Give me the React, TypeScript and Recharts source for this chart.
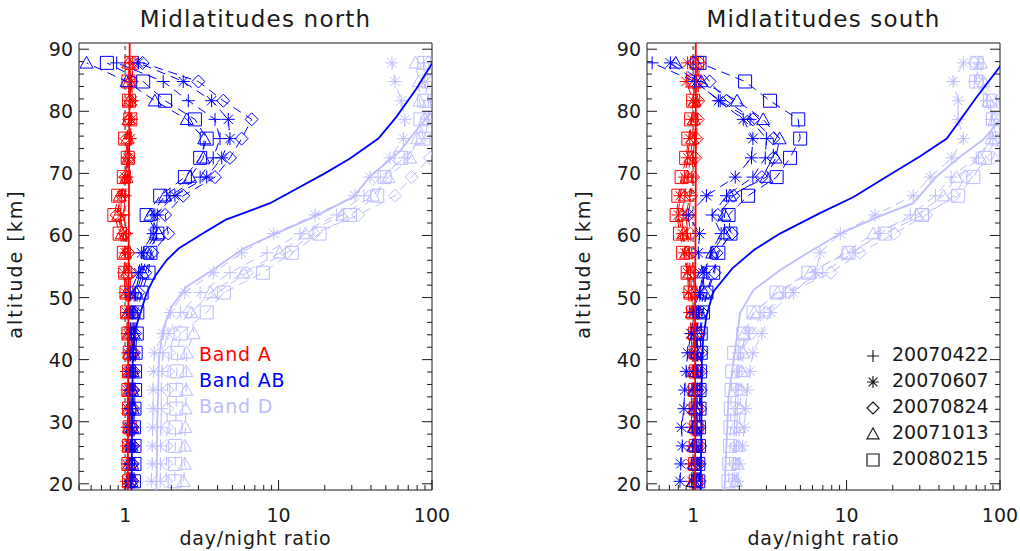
import React from 'react';
import { ComposedChart, Scatter, XAxis, YAxis, ReferenceLine } from 'recharts';

// altitude levels of the retrievals [km]
const ALT = [20.4, 23.2, 26.1, 29.1, 32.1, 35.1, 38.1, 41.1, 44.2, 47.6, 50.8, 54.0, 57.2, 60.3, 63.3, 66.4, 69.4, 72.5, 75.6, 78.7, 81.7, 84.8, 87.8];
const DATES = ['20070422', '20070607', '20070824', '20071013', '20080215'];

// ---- Midlatitudes north ----
const northA_0422 = [1.08, 1.07, 1.09, 1.08, 1.07, 1.08, 1.09, 1.08, 1.07, 1.08, 1.06, 1.05, 1.04, 1.02, 0.98, 1.0, 1.03, 1.06, 1.07, 1.08, 1.09, 1.08, 1.07];
const northA_0607 = [1.02, 1.03, 1.02, 1.03, 1.04, 1.03, 1.02, 1.04, 1.03, 1.02, 1.0, 0.98, 1.0, 0.97, 0.93, 0.95, 1.0, 1.04, 1.08, 1.1, 1.12, 1.1, 1.12];
const northA_0824 = [1.1, 1.11, 1.12, 1.11, 1.1, 1.12, 1.11, 1.12, 1.11, 1.1, 1.08, 1.08, 1.05, 1.0, 0.88, 0.95, 1.0, 1.05, 1.02, 1.06, 1.08, 1.1, 1.14];
const northA_1013 = [1.05, 1.06, 1.05, 1.06, 1.05, 1.06, 1.07, 1.06, 1.05, 1.04, 1.02, 1.03, 1.0, 0.95, 0.9, 0.92, 1.02, 1.05, 1.03, 1.05, 1.07, 1.06, 1.05];
const northA_0215 = [1.06, 1.05, 1.06, 1.07, 1.06, 1.05, 1.06, 1.07, 1.05, 1.03, 1.02, 1.0, 0.98, 0.92, 0.85, 0.9, 0.98, 1.04, 1.0, 1.08, 1.06, 1.05, 1.1];

const northAB_0422 = [1.1, 1.1, 1.11, 1.1, 1.11, 1.11, 1.12, 1.12, 1.13, 1.12, 1.16, 1.25, 1.32, 1.6, 1.62, 1.96, 3.08, 3.75, 4.15, 3.85, 2.58, 1.77, 0.88];
const northAB_0607 = [1.08, 1.07, 1.08, 1.07, 1.08, 1.07, 1.08, 1.09, 1.1, 1.06, 1.08, 1.22, 1.28, 1.52, 1.56, 2.11, 3.4, 4.26, 4.82, 4.7, 3.66, 2.39, 1.22];
const northAB_0824 = [1.12, 1.12, 1.13, 1.12, 1.13, 1.13, 1.14, 1.14, 1.16, 1.16, 1.22, 1.35, 1.5, 1.91, 1.82, 2.39, 3.85, 4.82, 5.74, 6.68, 4.36, 3.0, 1.3];
const northAB_1013 = [1.1, 1.11, 1.1, 1.11, 1.12, 1.11, 1.12, 1.13, 1.14, 1.14, 1.18, 1.3, 1.4, 1.65, 1.46, 1.82, 2.65, 3.23, 3.27, 2.52, 1.56, 1.02, 0.56];
const northAB_0215 = [1.14, 1.15, 1.15, 1.14, 1.15, 1.16, 1.16, 1.17, 1.19, 1.2, 1.28, 1.42, 1.46, 1.62, 1.38, 1.69, 2.45, 3.08, 3.4, 2.85, 1.82, 1.31, 0.76];

const northD_0422 = [1.69, 1.7, 1.7, 1.71, 1.72, 1.72, 1.74, 1.76, 1.9, 2.3, 3.08, 4.82, 8.4, 13.8, 23.9, 36, 46, 66, 90, 95, 95, 90, 88];
const northD_0607 = [1.48, 1.5, 1.5, 1.51, 1.52, 1.52, 1.53, 1.55, 1.77, 1.97, 2.45, 3.75, 5.74, 9.3, 17.3, 31.5, 39.4, 53.2, 65, 66.6, 63, 57.4, 54.8];
const northD_0824 = [1.85, 1.86, 1.86, 1.88, 1.88, 1.89, 1.9, 1.93, 2.1, 2.6, 4.0, 6.2, 11.3, 17, 33, 57.4, 73.6, 97, 110, 110, 105, 100, 95];
const northD_1013 = [2.4, 2.45, 2.45, 2.47, 2.48, 2.5, 2.5, 2.52, 2.8, 2.7, 3.6, 5.9, 10.2, 15, 26, 41.4, 51.9, 72, 80, 90, 83, 82, 78];
const northD_0215 = [2.1, 2.12, 2.12, 2.13, 2.15, 2.15, 2.17, 2.2, 2.3, 3.4, 4.4, 7.9, 12.2, 18.5, 29.2, 44, 49, 63, 88, 84, 89, 95, 89];

// model profiles (solid lines)
const northModelA_alt = [19, 50, 70, 91];
const northModelA = [1.04, 1.05, 1.06, 1.07];
const northModelAB_alt = [19, 30, 40, 44.8, 50.7, 53.4, 56, 57.9, 60.3, 62.5, 65.2, 70, 72.4, 75.6, 79.1, 83.7, 87.7, 91];
const northModelAB = [1.1, 1.11, 1.12, 1.16, 1.38, 1.56, 1.86, 2.23, 3.2, 4.5, 8.8, 20, 29.2, 44.7, 58.6, 79.5, 100, 130];
const northModelD_alt = [19, 30, 40, 44.8, 48.5, 51.7, 54.4, 57.9, 60.1, 63, 66.2, 69.5, 73.5, 77, 80, 85];
const northModelD = [1.6, 1.62, 1.66, 1.76, 2.0, 2.5, 3.7, 5.9, 9.2, 17, 30.7, 39.4, 61.5, 79.5, 100, 130];

// ---- Midlatitudes south ----
const southA_0422 = [1.03, 1.02, 1.04, 1.03, 1.02, 1.03, 1.04, 1.03, 1.02, 1.0, 0.98, 0.96, 0.94, 0.92, 0.9, 0.95, 0.98, 1.0, 1.02, 1.04, 1.06, 1.05, 1.08];
const southA_0607 = [0.98, 0.97, 0.99, 0.98, 0.97, 0.98, 0.99, 0.98, 0.97, 0.95, 0.93, 0.92, 0.88, 0.85, 0.8, 0.82, 0.88, 0.92, 0.95, 0.98, 1.0, 0.9, 0.92];
const southA_0824 = [1.06, 1.07, 1.06, 1.07, 1.06, 1.07, 1.08, 1.07, 1.06, 1.04, 1.02, 1.0, 0.98, 0.96, 0.93, 0.97, 1.0, 1.03, 1.05, 1.07, 1.08, 1.08, 1.1];
const southA_1013 = [1.0, 1.01, 1.0, 1.01, 1.02, 1.01, 1.0, 1.01, 1.0, 0.98, 0.96, 0.94, 0.9, 0.86, 0.84, 0.88, 0.92, 0.96, 0.99, 1.01, 1.02, 1.03, 1.04];
const southA_0215 = [1.04, 1.03, 1.04, 1.05, 1.04, 1.03, 1.04, 1.05, 1.03, 1.0, 0.96, 0.92, 0.86, 0.82, 0.78, 0.8, 0.84, 0.9, 0.93, 0.97, 1.0, 1.02, 1.06];

const southAB_0422 = [1.05, 1.06, 1.05, 1.06, 1.05, 1.06, 1.06, 1.07, 1.06, 1.08, 1.12, 1.18, 1.3, 1.52, 1.33, 1.65, 2.45, 2.95, 3.0, 2.35, 1.5, 1.02, 0.54];
const southAB_0607 = [0.82, 0.83, 0.85, 0.84, 0.87, 0.88, 0.9, 0.92, 0.97, 1.0, 1.1, 1.16, 1.08, 1.1, 0.93, 1.22, 1.88, 2.4, 2.45, 2.12, 1.46, 1.05, 0.71];
const southAB_0824 = [1.1, 1.1, 1.11, 1.1, 1.11, 1.12, 1.12, 1.13, 1.1, 1.14, 1.24, 1.38, 1.42, 1.79, 1.45, 1.83, 2.8, 3.33, 3.33, 2.45, 1.65, 1.28, 1.0];
const southAB_1013 = [1.0, 1.02, 1.01, 1.02, 1.03, 1.03, 1.04, 1.05, 1.05, 1.1, 1.18, 1.16, 1.33, 1.6, 1.6, 1.74, 3.0, 3.45, 3.66, 2.86, 1.93, 1.13, 0.77];
const southAB_0215 = [1.08, 1.08, 1.09, 1.09, 1.1, 1.1, 1.11, 1.12, 1.12, 1.16, 1.22, 1.35, 1.46, 1.75, 1.7, 2.28, 3.5, 4.28, 4.98, 4.84, 3.17, 2.18, 1.1];

const southD_0422 = [1.8, 1.82, 1.85, 1.86, 1.88, 1.9, 1.93, 1.98, 2.3, 2.9, 4.0, 7.0, 11.0, 16.5, 26, 38, 48, 70, 90, 88, 82, 68, 72];
const southD_0607 = [1.95, 2.0, 2.1, 2.15, 2.2, 2.25, 2.35, 2.45, 2.8, 3.2, 4.5, 6.3, 6.7, 9.1, 15.3, 27.2, 35, 48.5, 57.7, 53.4, 53.4, 49.5, 57.7];
const southD_0824 = [1.85, 1.88, 1.9, 1.92, 1.95, 1.97, 2.0, 2.05, 2.4, 3.0, 4.2, 7.9, 12.2, 20.5, 33, 50, 60, 90, 100, 100, 98, 75, 68];
const southD_1013 = [1.9, 1.95, 1.98, 2.0, 2.02, 2.05, 2.08, 2.12, 2.15, 2.5, 3.55, 5.8, 9.8, 14.9, 28.6, 42.8, 52, 74, 88, 92, 84, 78, 75];
const southD_0215 = [1.7, 1.72, 1.74, 1.75, 1.76, 1.78, 1.8, 1.85, 2.12, 2.47, 3.5, 5.63, 10.3, 17.7, 31, 53.3, 67, 80, 95, 90, 86, 70, 70.5];

const southModelA_alt = [19, 50, 70, 91];
const southModelA = [1.03, 1.03, 1.04, 1.04];
const southModelAB_alt = [19, 30, 40, 43.2, 47, 50.9, 54.7, 57.7, 60.3, 63.6, 66.2, 69.5, 72.7, 75.6, 78.6, 82.3, 87.2, 91];
const southModelAB = [1.12, 1.13, 1.14, 1.16, 1.22, 1.35, 1.8, 2.5, 3.68, 6.7, 11.1, 18.3, 30, 45, 55, 70.5, 100, 130];
const southModelD_alt = [19, 34, 43.7, 47.5, 51.2, 54.4, 57.1, 60.3, 63, 65.2, 69.5, 72.7, 75.4, 78.6, 85];
const southModelD = [1.6, 1.7, 1.93, 2.02, 2.47, 3.68, 5.5, 9.1, 16, 27.2, 38.6, 55, 77.6, 100, 130];

// axes
const X_TICKS = [0.5, 0.6, 0.7, 0.8, 0.9, 1, 2, 3, 4, 5, 6, 7, 8, 9, 10, 20, 30, 40, 50, 60, 70, 80, 90, 100];
const X_LABELS = [1, 10, 100];
const Y_TICKS = [20, 22, 24, 26, 28, 30, 32, 34, 36, 38, 40, 42, 44, 46, 48, 50, 52, 54, 56, 58, 60, 62, 64, 66, 68, 70, 72, 74, 76, 78, 80, 82, 84, 86, 88, 90];
const Y_LABELS = [20, 30, 40, 50, 60, 70, 80, 90];

const RED = '#ff0000';
const BLUE = '#0000ff';
const LAV = '#bdbdff';
const INK = '#1a1a1a';
const FONT = '"DejaVu Sans", "Liberation Sans", sans-serif';
const KINDS = ['plus', 'asterisk', 'diamond', 'triangle', 'square'];

const markerPath = (kind: string, cx: number, cy: number, s: number) => {
  const d = s * 0.72;
  switch (kind) {
    case 'plus':
      return `M${cx - s},${cy}H${cx + s}M${cx},${cy - s}V${cy + s}`;
    case 'asterisk':
      return `M${cx - s},${cy}H${cx + s}M${cx},${cy - s}V${cy + s}M${cx - d},${cy - d}L${cx + d},${cy + d}M${cx - d},${cy + d}L${cx + d},${cy - d}`;
    case 'diamond':
      return `M${cx},${cy - s}L${cx + s},${cy}L${cx},${cy + s}L${cx - s},${cy}Z`;
    case 'triangle':
      return `M${cx - s},${cy + s * 0.8}L${cx + s},${cy + s * 0.8}L${cx},${cy - s}Z`;
    default:
      return `M${cx - s},${cy - s}H${cx + s}V${cy + s}H${cx - s}Z`;
  }
};

const makeShape = (kind: string, color: string) => (p: any) => {
  if (p.cx == null || p.cy == null) return <g />;
  return <path d={markerPath(kind, p.cx, p.cy, 6.5)} stroke={color} strokeWidth={1} fill="none" />;
};
const noShape = () => <g />;

const pts = (xs: number[], ys: number[]) => xs.map((x, i) => ({ x, y: ys[i] }));

type Band = { color: string; series: number[][]; model: number[]; modelAlt: number[] };

const bottomTick = (p: any) => {
  const major = X_LABELS.includes(p.payload.value);
  return (
    <g>
      <line x1={p.x} x2={p.x} y1={p.y} y2={p.y - (major ? 10 : 5)} stroke={INK} />
      {major && (
        <text x={p.x} y={p.y + 32} textAnchor="middle" fontSize={19} fontFamily={FONT} fill={INK}>
          {p.payload.value}
        </text>
      )}
    </g>
  );
};
const topTick = (p: any) => {
  const major = X_LABELS.includes(p.payload.value);
  return <line x1={p.x} x2={p.x} y1={p.y} y2={p.y + (major ? 10 : 5)} stroke={INK} />;
};
const leftTick = (p: any) => {
  const major = Y_LABELS.includes(p.payload.value);
  return (
    <g>
      <line x1={p.x} x2={p.x + (major ? 10 : 5)} y1={p.y} y2={p.y} stroke={INK} />
      {major && (
        <text x={p.x - 6} y={p.y + 7} textAnchor="end" fontSize={19} fontFamily={FONT} fill={INK}>
          {p.payload.value}
        </text>
      )}
    </g>
  );
};
const rightTick = (p: any) => {
  const major = Y_LABELS.includes(p.payload.value);
  return <line x1={p.x} x2={p.x - (major ? 10 : 5)} y1={p.y} y2={p.y} stroke={INK} />;
};

const Panel = ({ left, plotLeft, plotRight, title, bands }: { left: number; plotLeft: number; plotRight: number; title: string; bands: Band[] }) => {
  const W = 510;
  const cx = (plotLeft + plotRight) / 2;
  // every axis takes 1px of room, so margins are 1px short of the plot frame
  return (
    <div style={{ position: 'absolute', left, top: 0, width: W, height: 551 }}>
      <ComposedChart width={W} height={551} margin={{ top: 42, bottom: 60, left: plotLeft - 1, right: W - plotRight - 1 }}>
        <XAxis xAxisId="b" dataKey="x" type="number" scale="log" domain={[0.5, 100]} allowDataOverflow ticks={X_TICKS} interval={0} height={1} tickSize={0} tickMargin={0} tickLine={false} stroke={INK} tick={bottomTick} />
        <XAxis xAxisId="t" orientation="top" type="number" scale="log" domain={[0.5, 100]} allowDataOverflow ticks={X_TICKS} interval={0} height={1} tickSize={0} tickMargin={0} tickLine={false} stroke={INK} tick={topTick} />
        <YAxis yAxisId="l" dataKey="y" type="number" domain={[19, 91]} allowDataOverflow ticks={Y_TICKS} interval={0} width={1} tickSize={0} tickMargin={0} tickLine={false} stroke={INK} tick={leftTick} />
        <YAxis yAxisId="r" orientation="right" type="number" domain={[19, 91]} allowDataOverflow ticks={Y_TICKS} interval={0} width={1} tickSize={0} tickMargin={0} tickLine={false} stroke={INK} tick={rightTick} />
        <ReferenceLine xAxisId="b" yAxisId="l" x={1} stroke="#8a8a8a" strokeWidth={2} strokeDasharray="4 4" />
        {bands.map((b, bi) =>
          b.series.map((xs, si) => (
            <Scatter
              key={`s${bi}-${si}`}
              xAxisId="b"
              yAxisId="l"
              data={pts(xs, ALT)}
              fill={b.color}
              line={{ stroke: b.color, strokeWidth: 1, strokeDasharray: '9 6' }}
              lineType="joint"
              shape={makeShape(KINDS[si], b.color)}
              isAnimationActive={false}
            />
          ))
        )}
        {bands.map((b, bi) => (
          <Scatter
            key={`m${bi}`}
            xAxisId="b"
            yAxisId="l"
            data={pts(b.model, b.modelAlt)}
            fill={b.color}
            line={{ stroke: b.color, strokeWidth: 1.8 }}
            lineType="joint"
            shape={noShape}
            isAnimationActive={false}
          />
        ))}
      </ComposedChart>
      <div style={{ position: 'absolute', left: cx - 200, width: 400, top: 6, textAlign: 'center', fontFamily: FONT, fontSize: 23, letterSpacing: 1.2, color: INK }}>
        {title}
      </div>
      <div style={{ position: 'absolute', left: cx - 200, width: 400, top: 527, textAlign: 'center', fontFamily: FONT, fontSize: 19, letterSpacing: 0.8, color: INK }}>
        day/night ratio
      </div>
      <div
        style={{
          position: 'absolute', left: plotLeft - 64 - 100, width: 200, top: 253, textAlign: 'center',
          transform: 'rotate(-90deg)', fontFamily: FONT, fontSize: 19, letterSpacing: 2, color: INK,
        }}
      >
        altitude [km]
      </div>
    </div>
  );
};

const App = () => {
  const north: Band[] = [
    { color: RED, series: [northA_0422, northA_0607, northA_0824, northA_1013, northA_0215], model: northModelA, modelAlt: northModelA_alt },
    { color: BLUE, series: [northAB_0422, northAB_0607, northAB_0824, northAB_1013, northAB_0215], model: northModelAB, modelAlt: northModelAB_alt },
    { color: LAV, series: [northD_0422, northD_0607, northD_0824, northD_1013, northD_0215], model: northModelD, modelAlt: northModelD_alt },
  ];
  const south: Band[] = [
    { color: RED, series: [southA_0422, southA_0607, southA_0824, southA_1013, southA_0215], model: southModelA, modelAlt: southModelA_alt },
    { color: BLUE, series: [southAB_0422, southAB_0607, southAB_0824, southAB_1013, southAB_0215], model: southModelAB, modelAlt: southModelAB_alt },
    { color: LAV, series: [southD_0422, southD_0607, southD_0824, southD_1013, southD_0215], model: southModelD, modelAlt: southModelD_alt },
  ];
  const bandNames = [['Band A', RED], ['Band AB', BLUE], ['Band D', LAV]];
  return (
    <div style={{ position: 'absolute', left: 0, top: 0, width: 1020, height: 551, background: '#fff', overflow: 'hidden' }}>
      <Panel left={0} plotLeft={79} plotRight={432} title="Midlatitudes north" bands={north} />
      <Panel left={510} plotLeft={137} plotRight={490} title="Midlatitudes south" bands={south} />
      {bandNames.map(([name, c], i) => (
        <div key={name} style={{ position: 'absolute', left: 199, top: 343 + i * 26, fontFamily: FONT, fontSize: 19, letterSpacing: 0.8, color: c }}>
          {name}
        </div>
      ))}
      <svg style={{ position: 'absolute', left: 860, top: 340 }} width={30} height={140}>
        {KINDS.map((k, i) => (
          <path key={k} d={markerPath(k, 13, 16 + i * 26, 6)} stroke={INK} fill="none" strokeWidth={1.2} />
        ))}
      </svg>
      {DATES.map((d, i) => (
        <div key={d} style={{ position: 'absolute', left: 892, top: 343 + i * 26, fontFamily: FONT, fontSize: 19, color: INK }}>
          {d}
        </div>
      ))}
    </div>
  );
};

export default App;
